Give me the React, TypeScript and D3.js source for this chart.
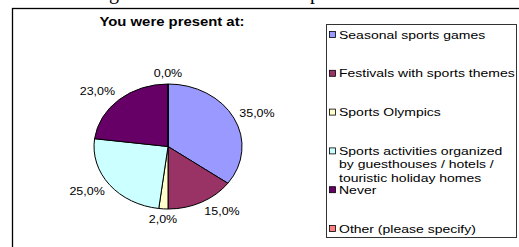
import { useRef, useEffect } from "react";
import { select, pie, arc } from "d3";

const categories = [
  "Seasonal sports games",
  "Festivals with sports themes",
  "Sports Olympics",
  "Sports activities organized by guesthouses / hotels / touristic holiday homes",
  "Never",
  "Other (please specify)",
];
const legendLines = [
  ["Seasonal sports games"],
  ["Festivals with sports themes"],
  ["Sports Olympics"],
  ["Sports activities organized", "by guesthouses / hotels /", "touristic holiday homes"],
  ["Never"],
  ["Other (please specify)"],
];
const values = [35, 15, 2, 25, 23, 0];
const labels = ["35,0%", "15,0%", "2,0%", "25,0%", "23,0%", "0,0%"];
const colors = ["#9999FF", "#993366", "#FFFFCC", "#CCFFFF", "#660066", "#FF8080"];
const title = "You were present at:";

const W = 519;
const H = 247;
const cx = 168;
const cy = 146.5;
const rx = 74;
const ry = 62.5;
const font = "Arial, 'Liberation Sans', sans-serif";

export default function App() {
  const ref = useRef<SVGSVGElement | null>(null);

  useEffect(() => {
    const svg = select(ref.current!);
    svg.selectAll("*").remove();

    svg.append("rect").attr("width", W).attr("height", H).attr("fill", "#fff");

    // bits of the page text above the chart
    svg.append("text").attr("x", 109).attr("y", -1.5)
      .attr("font-family", "'Liberation Serif', serif").attr("font-size", 20).text("g");
    svg.append("text").attr("x", 310).attr("y", -1.5)
      .attr("font-family", "'Liberation Serif', serif").attr("font-size", 20).text("p");

    // chart frame
    svg.append("rect")
      .attr("x", 12.5).attr("y", 8.5).attr("width", 530).attr("height", 260)
      .attr("fill", "#fff").attr("stroke", "#000").attr("stroke-width", 1.3);

    // title
    svg.append("text")
      .attr("transform", `translate(172,26) scale(1.24,1)`)
      .attr("text-anchor", "middle")
      .attr("font-family", font).attr("font-weight", "bold").attr("font-size", 12)
      .text(title);

    // pie
    const arcs = pie<number>().sort(null).value((d) => d)(values);
    const arcGen: any = arc().innerRadius(0).outerRadius(1);
    const g = svg.append("g").attr("transform", `translate(${cx},${cy}) scale(${rx},${ry})`);
    g.selectAll("path")
      .data(arcs)
      .join("path")
      .attr("d", arcGen)
      .attr("fill", (d, i) => colors[i])
      .attr("stroke", "#000")
      .attr("stroke-width", 1)
      .attr("vector-effect", "non-scaling-stroke");

    // labels
    const gap = 6;
    arcs.forEach((d, i) => {
      const a = (d.startAngle + d.endAngle) / 2;
      const s = Math.sin(a);
      const c = Math.cos(a);
      const px = cx + (rx + gap) * s;
      const py = cy - (ry + gap) * c;
      const anchor = s > 0.1 ? "start" : s < -0.1 ? "end" : "middle";
      svg.append("text")
        .attr("transform", `translate(${px},${py - c * 5}) scale(1.25,1)`)
        .attr("dy", "0.35em")
        .attr("text-anchor", anchor)
        .attr("font-family", font).attr("font-size", 10)
        .text(labels[i]);
    });

    // legend
    svg.append("rect")
      .attr("x", 326.5).attr("y", 24.5).attr("width", 190).attr("height", 213)
      .attr("fill", "#fff").attr("stroke", "#333").attr("stroke-width", 1);

    const step = 38.8;
    categories.forEach((cat, i) => {
      const y = 35 + i * step;
      svg.append("rect")
        .attr("x", 329.5).attr("y", y - 3.5).attr("width", 6).attr("height", 6)
        .attr("fill", colors[i]).attr("stroke", "#000").attr("stroke-width", 0.8);
      legendLines[i].forEach((line, j) => {
        svg.append("text")
          .attr("transform", `translate(339,${y + j * 13.5}) scale(1.4,1)`)
          .attr("dy", "0.35em")
          .attr("font-family", font).attr("font-size", 10)
          .text(line);
      });
    });
  }, []);

  return (
    <svg
      ref={ref}
      width={W}
      height={H}
      style={{ position: "absolute", left: 0, top: 0, display: "block" }}
    ></svg>
  );
}
